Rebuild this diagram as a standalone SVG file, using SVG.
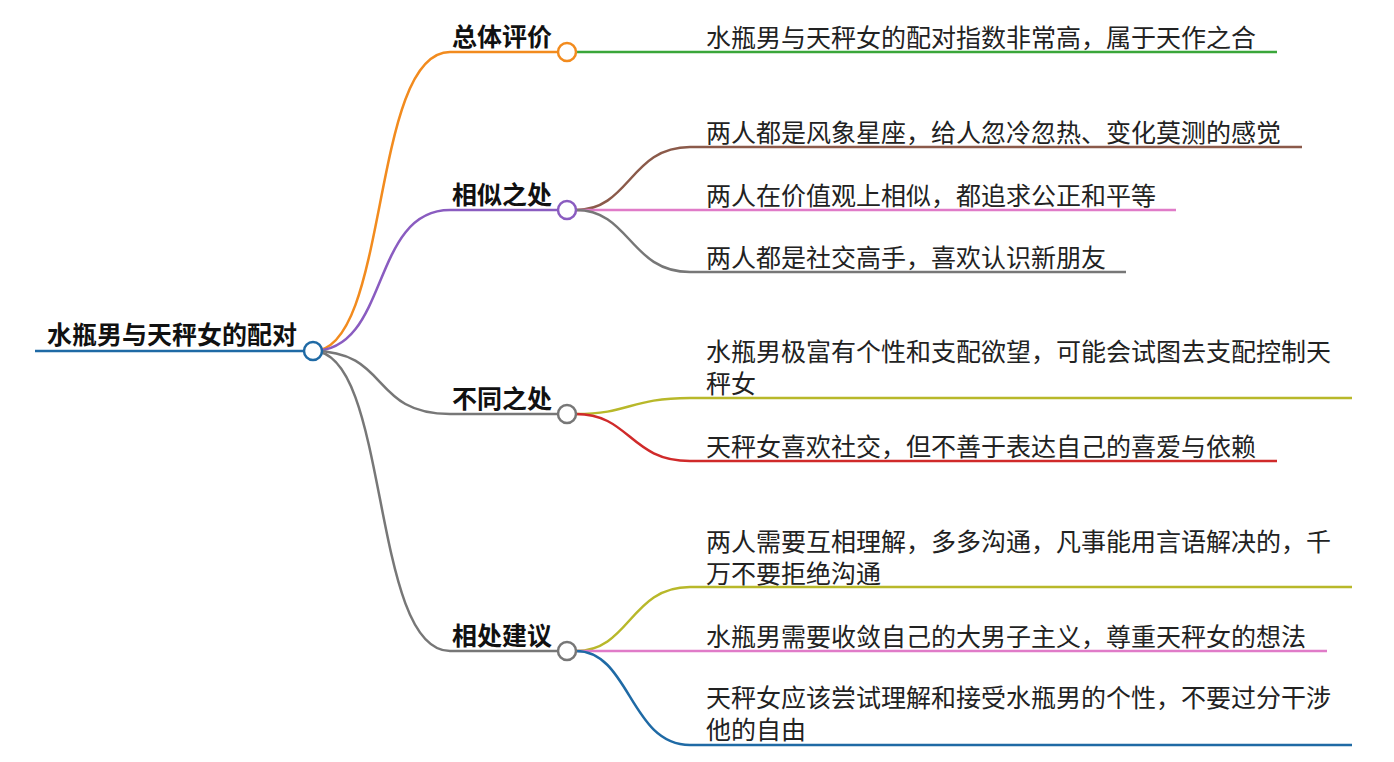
<svg xmlns="http://www.w3.org/2000/svg" width="1394" height="762" viewBox="0 0 1394 762">
<style>
text{font-family:"Noto Sans CJK SC","Noto Sans",sans-serif;font-size:25px;fill:#222}
.b{font-weight:bold;font-size:25px;fill:#111}
path{fill:none;stroke-width:2.5}
circle{fill:#fff;stroke-width:2.5}
</style>
<rect width="1394" height="762" fill="#fff"/>
<g id="connectors">
<path d="M35 351 H304" stroke="#1f6aa5" stroke-width="6"/>
<path d="M313 351 C390 351 370 52 450 52 H558" stroke="#f28b1e"/>
<path d="M313 351 C390 351 370 210 450 210 H558" stroke="#8a5cc0"/>
<path d="M313 351 C390 351 370 414 450 414 H558" stroke="#777"/>
<path d="M313 351 C390 351 370 651 450 651 H558" stroke="#777"/>
<path d="M576 52 H1277" stroke="#3aa63a"/>
<path d="M576 210 C630 210 630 147 690 147 H1302" stroke="#8b5a4a"/>
<path d="M576 210 H1176" stroke="#e07bc8"/>
<path d="M576 210 C630 210 630 272 690 272 H1126" stroke="#777"/>
<path d="M576 414 C630 414 630 398 690 398 H1352" stroke="#b8b82a"/>
<path d="M576 414 C630 414 630 461 690 461 H1277" stroke="#d02a2a"/>
<path d="M576 651 C630 651 630 587 690 587 H1352" stroke="#b8b82a"/>
<path d="M576 651 H1327" stroke="#e07bc8"/>
<path d="M576 651 C630 651 630 745 690 745 H1352" stroke="#1f6aa5"/>
</g>
<g id="root"><text class="b" x="47" y="344">水瓶男与天秤女的配对</text><circle cx="313" cy="351" r="9" stroke="#1f6aa5"/></g>
<g id="n1"><text class="b" x="452" y="46">总体评价</text><circle cx="567" cy="52" r="9" stroke="#f28b1e"/></g>
<g id="n2"><text class="b" x="452" y="204">相似之处</text><circle cx="567" cy="210" r="9" stroke="#8a5cc0"/></g>
<g id="n3"><text class="b" x="452" y="408">不同之处</text><circle cx="567" cy="414" r="9" stroke="#777"/></g>
<g id="n4"><text class="b" x="452" y="645">相处建议</text><circle cx="567" cy="651" r="9" stroke="#777"/></g>
<g id="l1"><text x="706" y="47">水瓶男与天秤女的配对指数非常高，属于天作之合</text></g>
<g id="l2"><text x="706" y="142">两人都是风象星座，给人忽冷忽热、变化莫测的感觉</text></g>
<g id="l3"><text x="706" y="205">两人在价值观上相似，都追求公正和平等</text></g>
<g id="l4"><text x="706" y="267">两人都是社交高手，喜欢认识新朋友</text></g>
<g id="l5"><text x="706" y="361">水瓶男极富有个性和支配欲望，可能会试图去支配控制天</text><text x="706" y="393">秤女</text></g>
<g id="l6"><text x="706" y="456">天秤女喜欢社交，但不善于表达自己的喜爱与依赖</text></g>
<g id="l7"><text x="706" y="551">两人需要互相理解，多多沟通，凡事能用言语解决的，千</text><text x="706" y="583">万不要拒绝沟通</text></g>
<g id="l8"><text x="706" y="646">水瓶男需要收敛自己的大男子主义，尊重天秤女的想法</text></g>
<g id="l9"><text x="706" y="707">天秤女应该尝试理解和接受水瓶男的个性，不要过分干涉</text><text x="706" y="739">他的自由</text></g>
</svg>
